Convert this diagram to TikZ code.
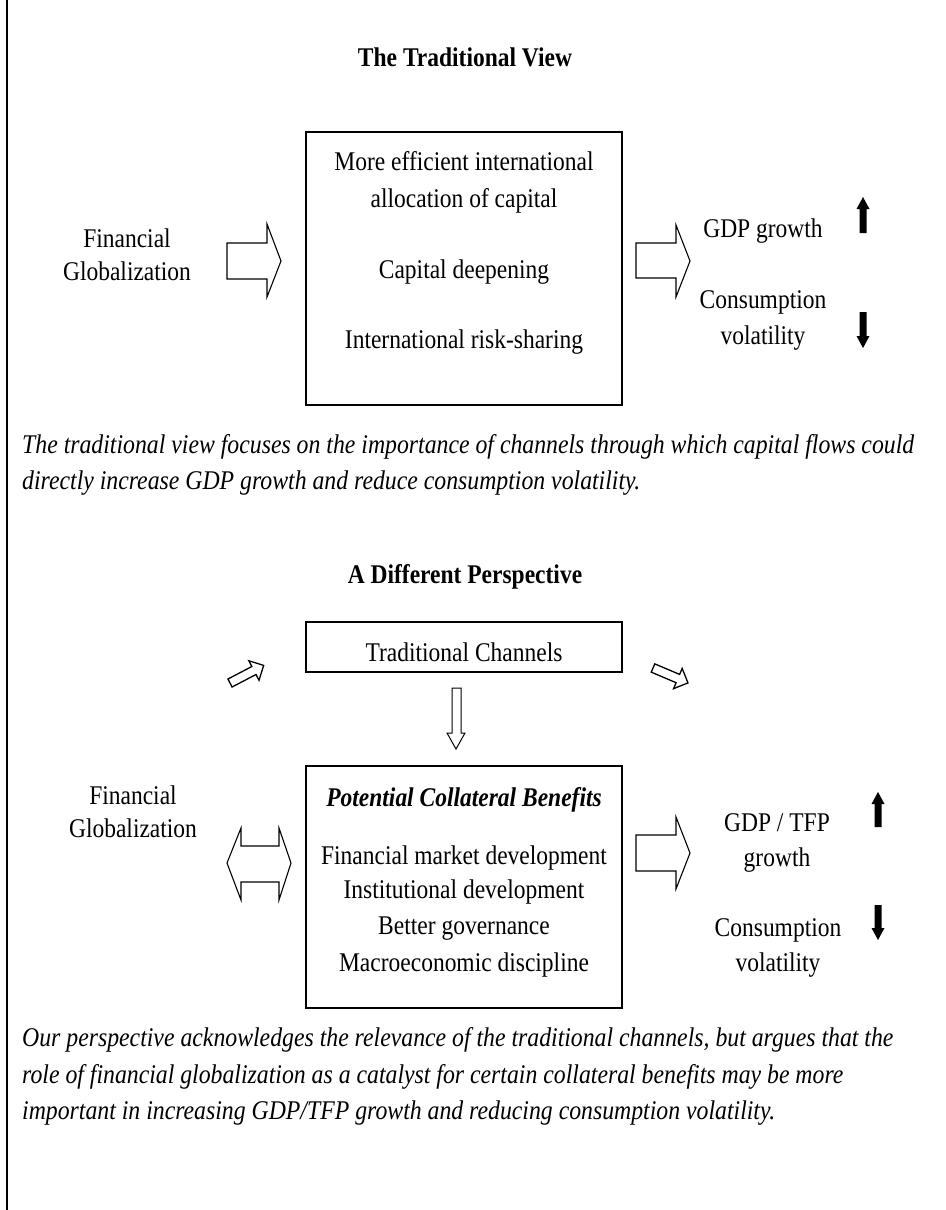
\documentclass[tikz,border=0pt]{standalone}
\usepackage{fontspec}
\setmainfont[FakeStretch=0.87]{Liberation Serif}
\newfontfamily\capfont[FakeStretch=0.88]{Liberation Serif}
\begin{document}
\begin{tikzpicture}[x=1pt,y=-1pt,
  txt/.style={anchor=base,inner sep=0pt,font=\fontsize{27}{30}\selectfont},
  captxt/.style={anchor=base west,inner sep=0pt,font=\capfont\fontsize{27}{30}\selectfont\itshape},
  ttl/.style={anchor=base,inner sep=0pt,font=\fontsize{27}{30}\selectfont\bfseries},
  boxx/.style={draw,line width=1.2pt},
  blk/.style={draw,line width=1.1pt,line join=miter},
  bar/.style={fill=black,draw=none}]
\useasboundingbox (0,0) rectangle (945,1210);
\draw[line width=1.4pt] (7,0) -- (7,1210);
% ---------- top part ----------
\node[ttl] (t1) at (465,66) {The Traditional View};
\node[txt] (fg1a) at (127,247) {Financial};
\node[txt] (fg1b) at (127,280) {Globalization};
\draw[boxx] (306,132) rectangle (622,405);
\node[txt] (b1a) at (464,170) {More efficient international};
\node[txt] (b1b) at (464,207) {allocation of capital};
\node[txt] (b1c) at (464,278) {Capital deepening};
\node[txt] (b1d) at (464,348) {International risk-sharing};
\draw[blk] (227,243) -- (267,243) -- (267,224) -- (281,261) -- (267,297) -- (267,279) -- (227,279) -- cycle;
\draw[blk] (636,243) -- (676,243) -- (676,225) -- (690,261) -- (676,297) -- (676,278) -- (636,278) -- cycle;
\node[txt] (gdp1) at (763,237) {GDP growth};
\node[txt] (cv1a) at (763,308) {Consumption};
\node[txt] (cv1b) at (763,344) {volatility};
\fill[bar] (859.5,233) -- (866.5,233) -- (866.5,209) -- (869.5,209) -- (863,197) -- (856.5,209) -- (859.5,209) -- cycle;
\fill[bar] (859.5,312) -- (866.5,312) -- (866.5,336) -- (869.5,336) -- (863,348) -- (856.5,336) -- (859.5,336) -- cycle;
\node[captxt] (c1a) at (22,453) {The traditional view focuses on the importance of channels through which capital flows could};
\node[captxt] (c1b) at (22,489) {directly increase GDP growth and reduce consumption volatility.};
% ---------- bottom part ----------
\node[ttl] (t2) at (465,583) {A Different Perspective};
\draw[boxx] (306,622) rectangle (622,672);
\node[txt] (tc) at (464,661) {Traditional Channels};
\begin{scope}[shift={(230,683)},rotate=27.6]
\draw[blk,line width=1.3pt] (0,-4.5) -- (27,-4.5) -- (27,-11) -- (38,0) -- (27,11) -- (27,4.5) -- (0,4.5) -- cycle;
\end{scope}
\begin{scope}[shift={(653,668)},rotate=-23]
\draw[blk,line width=1.3pt] (0,-4.5) -- (27,-4.5) -- (27,-11) -- (38,0) -- (27,11) -- (27,4.5) -- (0,4.5) -- cycle;
\end{scope}
\draw[blk,line width=1pt] (452,688) -- (461,688) -- (461,733) -- (465,733) -- (456,749) -- (447,733) -- (452,733) -- cycle;
\draw[boxx] (306,766) rectangle (622,1008);
\node[txt,font=\fontsize{27}{30}\selectfont\bfseries\itshape] (pcb) at (464,806) {Potential Collateral Benefits};
\node[txt] (b3a) at (464,864) {Financial market development};
\node[txt] (b3b) at (464,898) {Institutional development};
\node[txt] (b3c) at (464,934) {Better governance};
\node[txt] (b3d) at (464,971) {Macroeconomic discipline};
\node[txt] (fg2a) at (133,804) {Financial};
\node[txt] (fg2b) at (133,837) {Globalization};
\draw[blk] (227,863) -- (241,828) -- (241,846) -- (279,846) -- (279,828) -- (291,863) -- (279,900) -- (279,882) -- (241,882) -- (241,900) -- cycle;
\draw[blk] (636,835) -- (676,835) -- (676,817) -- (690,853) -- (676,889) -- (676,871) -- (636,871) -- cycle;
\node[txt] (gdp2a) at (777,831) {GDP / TFP};
\node[txt] (gdp2b) at (777,866) {growth};
\node[txt] (cv2a) at (778,936) {Consumption};
\node[txt] (cv2b) at (778,971) {volatility};
\fill[bar] (874.5,827) -- (881.5,827) -- (881.5,804) -- (884.5,804) -- (878,792) -- (871.5,804) -- (874.5,804) -- cycle;
\fill[bar] (874.5,905) -- (881.5,905) -- (881.5,928) -- (884.5,928) -- (878,940) -- (871.5,928) -- (874.5,928) -- cycle;
\node[captxt] (c2a) at (22,1046) {Our perspective acknowledges the relevance of the traditional channels, but argues that the};
\node[captxt] (c2b) at (22,1083) {role of financial globalization as a catalyst for certain collateral benefits may be more};
\node[captxt] (c2c) at (22,1119) {important in increasing GDP/TFP growth and reducing consumption volatility.};
\end{tikzpicture}
\end{document}
